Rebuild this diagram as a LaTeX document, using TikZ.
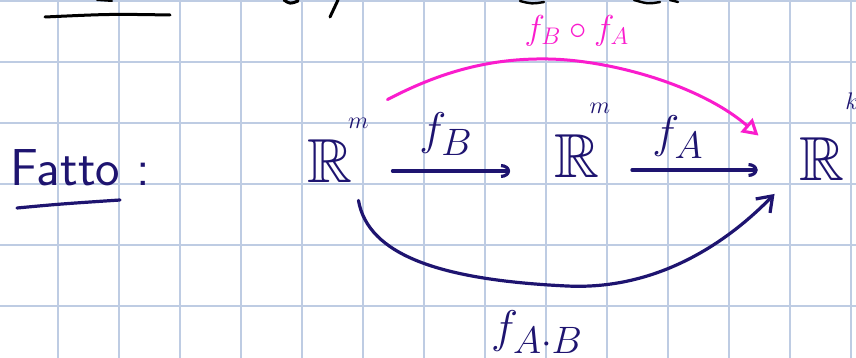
\documentclass[tikz,border=0pt]{standalone}
\usepackage{amsmath,amssymb}
\usepackage{tikz}
\usetikzlibrary{arrows.meta}
\definecolor{gridblue}{RGB}{190,204,227}
\definecolor{ink}{RGB}{30,20,112}
\definecolor{pinkink}{RGB}{250,28,205}
\tikzset{
  gridline/.style={gridblue,line width=0.7pt},
  pen/.style={ink,line width=1.6pt,line cap=round},
  blackpen/.style={black,line width=1.5pt,line cap=round},
  map/.style={pen,-{Arc Barb[length=4.5pt,width=7pt]}},
  bigmap/.style={pen,-{Straight Barb[length=7pt,width=10pt]}},
  compmap/.style={pinkink,line width=1.5pt,line cap=round,-{Triangle[open,length=8pt,width=9pt]}},
  space/.style={ink,font=\Huge,inner sep=0pt,scale=1.25},
  spacesup/.style={ink,font=\large,inner sep=0pt},
  maplabel/.style={ink,font=\Huge,inner sep=0pt,scale=0.92},
}

\begin{document}
\begin{tikzpicture}[x=0.5pt,y=-0.5pt]
\fill[white] (0,0) rectangle (856,358);
\useasboundingbox (0,0) rectangle (856,358);
% squared paper
\foreach \gx in {58,119,...,851} \draw[gridline] (\gx,0) -- (\gx,358);
\foreach \gy in {1,62,...,306} \draw[gridline] (0,\gy) -- (856,\gy);
% cut-off line above
\draw[blackpen] (45,17) .. controls (110,14) .. (170,15);
\draw[blackpen,line width=1pt] (97,0) -- (112,1);
\draw[blackpen] (284,0) .. controls (290,4) .. (298,1);
\draw[blackpen] (330,17) .. controls (334,8) .. (338,0);
\draw[blackpen,line width=1.2pt] (520,1) .. controls (532,4) .. (544,2);
\draw[blackpen,line width=1.2pt] (634,0) .. controls (648,4) .. (660,2);
\draw[blackpen,line width=1.2pt] (670,0) -- (678,2);
% Fatto
\node[ink,anchor=base west,inner sep=0pt,font=\fontsize{26}{30}\selectfont\sffamily] (fatto) at (10,185) {Fatto :};
\draw[pen] (17,208) .. controls (60,204) .. (120,200);
% spaces
\node[space] (Rm1) at (329.5,161.5) {$\mathbb{R}$};
\node[space] (Rm2) at (577,156) {$\mathbb{R}$};
\node[space] (Rk) at (821.5,159) {$\mathbb{R}$};
\node[spacesup] (Rm1sup) at (358.5,123.5) {$m$};
\node[spacesup] (Rm2sup) at (600,108) {$m$};
\node[spacesup] (Rksup) at (852,101) {$k$};
% maps
\draw[map,shorten <=20pt,shorten >=22pt] ([yshift=-4.75pt]Rm1.east) -- ([yshift=-7.5pt]Rm2.west);
\draw[map,shorten <=16pt,shorten >=20.5pt] ([yshift=-7pt]Rm2.east) -- ([yshift=-5.5pt]Rk.west);
\node[maplabel] (fB) at (446,134) {$f_B$};
\node[maplabel] (fA) at (678,137) {$f_A$};
% composition on top
\draw[compmap] ([xshift=17.5pt,yshift=20pt]Rm1.north east) .. controls (440,72) and (490,58) .. (548,59)
  .. controls (610,60) and (700,85) .. ([xshift=-20pt,yshift=0.75pt]Rk.north west);
\node[pinkink,font=\LARGE,inner sep=0pt] (fBfA) at (577,31) {$f_B\circ f_A$};
% product map below
\draw[bigmap] ([xshift=3pt,yshift=-8.5pt]Rm1.south east) .. controls (368,255) and (440,280) .. (567,286)
  .. controls (650,290) and (720,250) .. ([xshift=-12pt,yshift=-6.5pt]Rk.south west);
\node[maplabel] (fAB) at (537,332) {$f_{A\cdot B}$};
\end{tikzpicture}
\end{document}
